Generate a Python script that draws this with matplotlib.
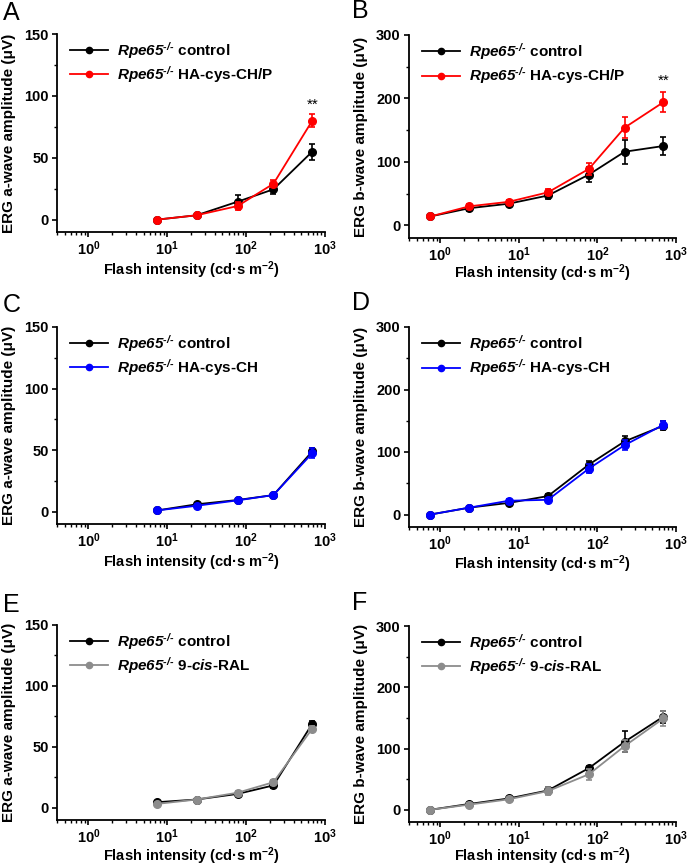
import matplotlib
matplotlib.use("Agg")
import matplotlib.pyplot as plt
from matplotlib.ticker import MultipleLocator, LogLocator
from matplotlib.lines import Line2D

plt.rcParams['font.family'] = ['Liberation Sans', 'DejaVu Sans']
plt.rcParams['mathtext.fontset'] = 'custom'
plt.rcParams['mathtext.rm'] = 'Liberation Sans:italic:bold'
plt.rcParams['mathtext.it'] = 'Liberation Sans:italic:bold'
plt.rcParams['mathtext.bf'] = 'Liberation Sans:bold'
plt.rcParams['mathtext.sf'] = 'Liberation Sans:bold'

# ---- data ----
flash = [0.75, 2.35, 7.4, 23.5, 78, 222, 690]
flash_a = flash[2:]

a_ctrl_1 = [0, 3.5, 14.5, 24.5, 55]
a_ctrl_1_err = [1, 1.5, 5, 4, 6.5]
a_chp = [0, 3.5, 11, 29, 80]
a_chp_err = [0.8, 1.5, 3, 3, 5]

b_ctrl_1 = [14, 27, 34, 47, 80, 116, 125]
b_ctrl_1_err = [3, 5, 3, 5, 12, 19, 14]
b_chp = [14, 30, 37, 52, 89, 154, 194]
b_chp_err = [3, 4, 3, 5, 10, 17, 16]

a_ctrl_2 = [1, 6, 9.5, 13.5, 49]
a_ctrl_2_err = [0.5, 1, 1, 1, 3]
a_ch = [1, 4.8, 9.2, 13.5, 47.5]
a_ch_err = [0.5, 1, 1, 1, 4]

b_ctrl_2 = [0, 11, 18.5, 29.5, 80, 117, 142]
b_ctrl_2_err = [1, 2, 3, 3, 6, 8, 7]
b_ch = [0, 11, 22, 23.5, 73.5, 111, 143.5]
b_ch_err = [1, 2, 3, 3, 7, 8, 6]

a_ctrl_3 = [4.6, 6.8, 11.4, 18.4, 69]
a_ctrl_3_err = [1, 1, 1, 2, 2]
a_ral = [3.2, 6.8, 12.4, 21, 65]
a_ral_err = [1, 1, 1, 2, 2]

b_ctrl_3 = [0, 9.5, 18.4, 31.5, 68, 111, 152]
b_ctrl_3_err = [1, 2, 2, 5, 4, 17, 10]
b_ral = [0, 8.4, 17, 30.5, 58, 104, 149]
b_ral_err = [1, 2, 2, 6, 9, 10, 13]

sup = "^{\u2010/\u2010}"
ctrl_label = "$Rpe65" + sup + "$ control"
labels_trt = ["$Rpe65" + sup + "$ HA-cys-CH/P",
              "$Rpe65" + sup + "$ HA-cys-CH",
              "$Rpe65" + sup + "$ 9-$cis$-RAL"]
colors_trt = ['#FF0000', '#0000FF', '#8C8C8C']

W, H = 687, 867
fig = plt.figure(figsize=(W / 100, H / 100), dpi=100)

# (left, top, right, bottom) in pixels
boxes = {
    'A': (57, 34, 325, 232), 'B': (409, 35, 676, 238),
    'C': (57, 327, 325, 524), 'D': (409, 327, 676, 527),
    'E': (57, 625, 325, 820), 'F': (409, 626, 676, 822),
}
letter_pos = {'A': (3, 20), 'B': (352, 18), 'C': (3, 312), 'D': (352, 310),
              'E': (3, 612), 'F': (352, 610)}
xlabel_y = {'A': 270, 'B': 273, 'C': 562, 'D': 564, 'E': 856, 'F': 856}

panels = [
    ('A', 'a', flash_a, a_ctrl_1, a_ctrl_1_err, a_chp, a_chp_err, 0),
    ('B', 'b', flash, b_ctrl_1, b_ctrl_1_err, b_chp, b_chp_err, 0),
    ('C', 'a', flash_a, a_ctrl_2, a_ctrl_2_err, a_ch, a_ch_err, 1),
    ('D', 'b', flash, b_ctrl_2, b_ctrl_2_err, b_ch, b_ch_err, 1),
    ('E', 'a', flash_a, a_ctrl_3, a_ctrl_3_err, a_ral, a_ral_err, 2),
    ('F', 'b', flash, b_ctrl_3, b_ctrl_3_err, b_ral, b_ral_err, 2),
]

for key, wave, xs, yc, ec, yt, et, ti in panels:
    l, t, r, b = boxes[key]
    ax = fig.add_axes([l / W, 1 - b / H, (r - l) / W, (b - t) / H])
    ax.errorbar(xs, yc, yerr=ec, color='black', marker='o', ms=5.5, lw=1.3,
                elinewidth=1.2, capsize=2.5, capthick=1.2, zorder=3)
    ax.errorbar(xs, yt, yerr=et, color=colors_trt[ti], marker='o', ms=5.5, lw=1.3,
                elinewidth=1.2, capsize=2.5, capthick=1.2, zorder=4)
    ax.set_xscale('log')
    ax.set_xlim(0.4, 1000)
    if wave == 'a':
        ax.set_ylim(-10, 150)
        ax.yaxis.set_major_locator(MultipleLocator(50))
        ax.yaxis.set_minor_locator(MultipleLocator(25))
        ax.set_ylabel('ERG a-wave amplitude (μV)', fontsize=11, fontweight='bold')
    else:
        ax.set_ylim(-20, 300)
        ax.yaxis.set_major_locator(MultipleLocator(100))
        ax.yaxis.set_minor_locator(MultipleLocator(50))
        ax.set_ylabel('ERG b-wave amplitude (μV)', fontsize=11, fontweight='bold')
    ax.xaxis.set_major_locator(LogLocator(base=10, numticks=10))
    ax.xaxis.set_minor_locator(LogLocator(base=10, subs=range(2, 10), numticks=20))
    ax.set_xlabel(r'Flash intensity (cd·s m$^{\mathsf{-2}}$)', fontsize=10.5,
                  fontweight='bold')
    for s in ('top', 'right'):
        ax.spines[s].set_visible(False)
    for s in ('left', 'bottom'):
        ax.spines[s].set_linewidth(1.3)
    ax.tick_params(which='major', direction='out', length=3.5, width=1.2,
                   labelsize=10.5, pad=1.5)
    ax.tick_params(axis='y', which='major', pad=2.5)
    ax.tick_params(which='minor', direction='out', length=2.2, width=1.0)
    for lab in ax.get_xticklabels() + ax.get_yticklabels():
        lab.set_fontweight('bold')
    ax.yaxis.set_label_coords((9 if l < 300 else 361) / W, 1 - (t + b) / 2 / H,
                              transform=fig.transFigure)
    ax.xaxis.set_label_coords((l + r) / 2 / W, 1 - xlabel_y[key] / H,
                              transform=fig.transFigure)
    ax.xaxis.label.set_va('center')
    ax.yaxis.label.set_va('center')
    handles = [Line2D([], [], color='black', marker='o', ms=4.5, lw=1.3),
               Line2D([], [], color=colors_trt[ti], marker='o', ms=4.5, lw=1.3)]
    ax.legend(handles, [ctrl_label, labels_trt[ti]], loc='upper left',
              bbox_to_anchor=(0.048, 0.97), frameon=False,
              prop={'weight': 'bold', 'size': 11}, handlelength=2.5,
              handletextpad=0.6, labelspacing=0.22, borderpad=0, borderaxespad=0)
    if key == 'A':
        ax.text(690, 87, '**', ha='center', va='bottom', fontsize=11)
    if key == 'B':
        ax.text(690, 217, '**', ha='center', va='bottom', fontsize=11)
    lx, ly = letter_pos[key]
    fig.text(lx / W, 1 - ly / H, key, fontsize=18, ha='left', va='baseline')

fig.savefig('out.png', dpi=100)
